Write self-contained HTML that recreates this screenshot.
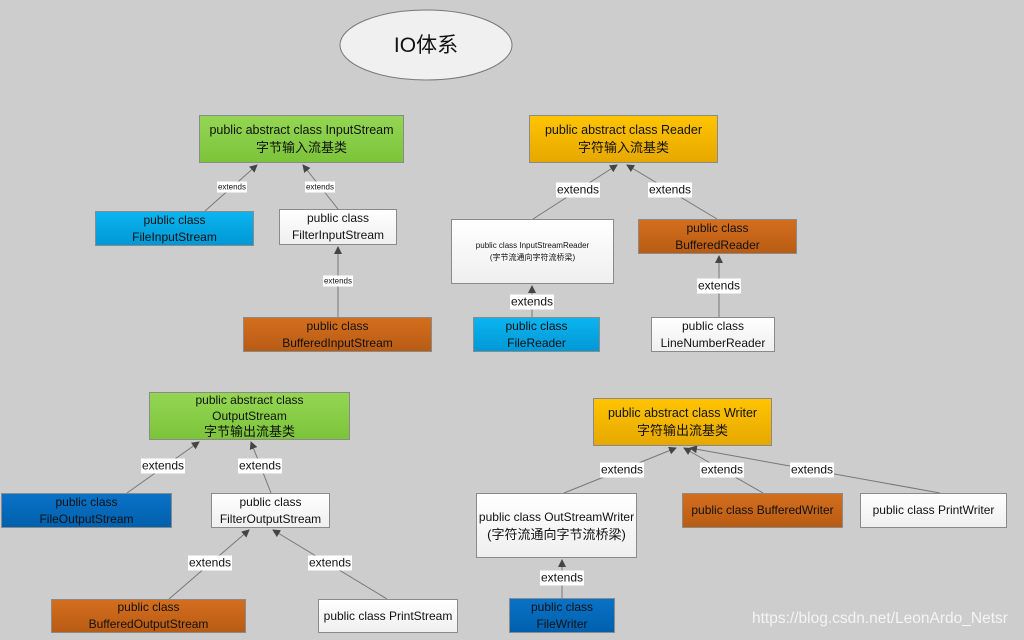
<!DOCTYPE html>
<html><head><meta charset="utf-8"><style>
body{margin:0;width:1024px;height:640px;background:#cdcdcd;position:relative;overflow:hidden;font-family:"Liberation Sans","Noto Sans CJK SC",sans-serif;}
.b{position:absolute;box-sizing:border-box;border:1px solid #8a8a8a;display:flex;flex-direction:column;align-items:center;justify-content:center;text-align:center;font-size:12px;line-height:17px;color:#111;}
.g{background:linear-gradient(#94d653,#7cc43a);}
.y{background:linear-gradient(#ffc400,#e6a800);}
.c{background:linear-gradient(#0cb4ef,#0098d6);}
.d{background:linear-gradient(#0a72c6,#0060ad);}
.o{background:linear-gradient(#d46e1e,#b85c14);}
.w{background:linear-gradient(#ffffff,#efefef);}
.l{position:absolute;background:#fff;font-size:12px;line-height:15px;padding:0 1px;transform:translate(-50%,-50%);color:#111;}
.s{font-size:8px;line-height:11px;}
svg{position:absolute;left:0;top:0}
</style></head><body>
<svg width="1024" height="640">
<defs><marker id="a" markerWidth="8" markerHeight="8" refX="7" refY="4" orient="auto" markerUnits="userSpaceOnUse"><path d="M0,0 L8,4 L0,8z" fill="#444"/></marker></defs>
<ellipse cx="426" cy="45" rx="86" ry="35" fill="#f0f0f0" stroke="#777"/>
<g stroke="#777" stroke-width="1" marker-end="url(#a)">
<line x1="205" y1="211" x2="257" y2="165"/>
<line x1="338" y1="209" x2="303" y2="165"/>
<line x1="338" y1="317" x2="338" y2="247"/>
<line x1="533" y1="219" x2="617" y2="165"/>
<line x1="717" y1="219" x2="627" y2="165"/>
<line x1="532" y1="317" x2="532" y2="286"/>
<line x1="719" y1="317" x2="719" y2="256"/>
<line x1="127" y1="493" x2="199" y2="442"/>
<line x1="271" y1="493" x2="251" y2="442"/>
<line x1="169" y1="599" x2="249" y2="530"/>
<line x1="387" y1="599" x2="273" y2="530"/>
<line x1="564" y1="493" x2="676" y2="448"/>
<line x1="763" y1="493" x2="684" y2="448"/>
<line x1="940" y1="493" x2="690" y2="448"/>
<line x1="562" y1="598" x2="562" y2="560"/>
</g>
<text x="426" y="52" font-size="21" text-anchor="middle" font-family="Liberation Sans,Noto Sans CJK SC,sans-serif" fill="#111">IO体系</text>
</svg>
<div class="b g" style="left:199px;top:115px;width:205px;height:48px;font-size:12.5px"><div>public abstract class InputStream</div><div style="font-size:13px">字节输入流基类</div></div>
<div class="b c" style="left:95px;top:211px;width:159px;height:35px"><div>public class</div><div>FileInputStream</div></div>
<div class="b w" style="left:279px;top:209px;width:118px;height:36px"><div>public class</div><div>FilterInputStream</div></div>
<div class="b o" style="left:243px;top:317px;width:189px;height:35px"><div>public class</div><div>BufferedInputStream</div></div>
<div class="l s" style="left:232px;top:187px">extends</div>
<div class="l s" style="left:320px;top:187px">extends</div>
<div class="l s" style="left:338px;top:281px">extends</div>

<div class="b y" style="left:529px;top:115px;width:189px;height:48px;font-size:12.5px"><div>public abstract class Reader</div><div style="font-size:13px">字符输入流基类</div></div>
<div class="b w" style="left:451px;top:219px;width:163px;height:65px;font-size:8px;line-height:12px"><div>public class InputStreamReader</div><div>(字节流通向字符流桥梁)</div></div>
<div class="b o" style="left:638px;top:219px;width:159px;height:35px"><div>public class</div><div>BufferedReader</div></div>
<div class="b c" style="left:473px;top:317px;width:127px;height:35px"><div>public class</div><div>FileReader</div></div>
<div class="b w" style="left:651px;top:317px;width:124px;height:35px"><div>public class</div><div>LineNumberReader</div></div>
<div class="l" style="left:578px;top:190px">extends</div>
<div class="l" style="left:670px;top:190px">extends</div>
<div class="l" style="left:532px;top:302px">extends</div>
<div class="l" style="left:719px;top:286px">extends</div>

<div class="b g" style="left:149px;top:392px;width:201px;height:48px;line-height:16px"><div>public abstract class</div><div>OutputStream</div><div style="font-size:13px">字节输出流基类</div></div>
<div class="b d" style="left:1px;top:493px;width:171px;height:35px"><div>public class</div><div>FileOutputStream</div></div>
<div class="b w" style="left:211px;top:493px;width:119px;height:35px"><div>public class</div><div>FilterOutputStream</div></div>
<div class="b o" style="left:51px;top:599px;width:195px;height:34px"><div>public class</div><div>BufferedOutputStream</div></div>
<div class="b w" style="left:318px;top:599px;width:140px;height:34px"><div>public class PrintStream</div></div>
<div class="l" style="left:163px;top:466px">extends</div>
<div class="l" style="left:260px;top:466px">extends</div>
<div class="l" style="left:210px;top:563px">extends</div>
<div class="l" style="left:330px;top:563px">extends</div>

<div class="b y" style="left:593px;top:398px;width:179px;height:48px;font-size:12.5px"><div>public abstract class Writer</div><div style="font-size:13px">字符输出流基类</div></div>
<div class="b w" style="left:476px;top:493px;width:161px;height:65px"><div>public class OutStreamWriter</div><div style="font-size:13px">(字符流通向字节流桥梁)</div></div>
<div class="b o" style="left:682px;top:493px;width:161px;height:35px"><div>public class BufferedWriter</div></div>
<div class="b w" style="left:860px;top:493px;width:147px;height:35px"><div>public class PrintWriter</div></div>
<div class="b d" style="left:509px;top:598px;width:106px;height:35px"><div>public class</div><div>FileWriter</div></div>
<div class="l" style="left:622px;top:470px">extends</div>
<div class="l" style="left:722px;top:470px">extends</div>
<div class="l" style="left:812px;top:470px">extends</div>
<div class="l" style="left:562px;top:578px">extends</div>

<div style="position:absolute;left:752px;top:610px;font-size:15.5px;color:#f4f4f4;white-space:nowrap">https://blog.csdn.net/LeonArdo_Netsr</div>
</body></html>
